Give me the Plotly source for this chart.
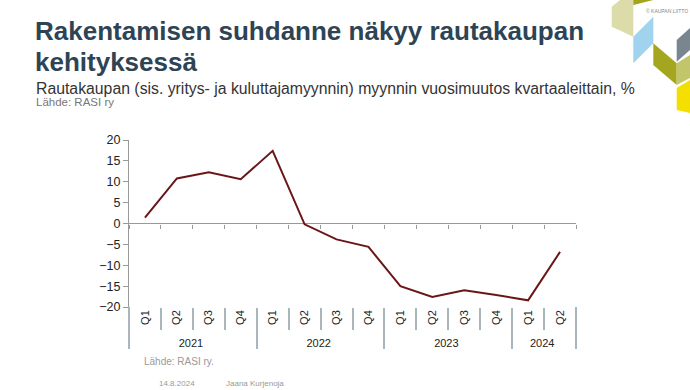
import plotly.graph_objects as go

years = ["2021"] * 4 + ["2022"] * 4 + ["2023"] * 4 + ["2024"] * 2
quarters = ["Q1", "Q2", "Q3", "Q4"] * 3 + ["Q1", "Q2"]
values = [1.4, 10.8, 12.3, 10.6, 17.4, -0.2, -3.8, -5.6, -15.0, -17.6, -16.0, -17.1, -18.4, -6.8]
y_ticks = [-20, -15, -10, -5, 0, 5, 10, 15, 20]

W, H = 690, 390
ML, MR, MT, MB = 129, 114, 140, 83
PW, PH = W - ML - MR, H - MT - MB


def px(x):
    return (x - ML) / PW


def py(y):
    return (H - MB - y) / PH


FONT = "Liberation Sans, Arial, sans-serif"
SEP = "#aab5bd"
XRANGE = [-0.5, len(values) - 0.5]

fig = go.Figure()
fig.add_trace(go.Scatter(
    x=[years, quarters], y=values, mode="lines",
    line=dict(color="#6b1616", width=2), showlegend=False, hoverinfo="skip",
))
# invisible trace for the zero-line tick axis
fig.add_trace(go.Scatter(
    x=[years, quarters], y=values, xaxis="x2", mode="lines",
    line=dict(width=0), opacity=0, showlegend=False, hoverinfo="skip",
))

fig.update_layout(
    width=W, height=H,
    margin=dict(l=ML, r=MR, t=MT, b=MB),
    paper_bgcolor="white", plot_bgcolor="white",
    font=dict(family=FONT, color="#222"),
    xaxis=dict(
        type="multicategory", range=XRANGE, showgrid=False, zeroline=False, showline=False,
        ticks="outside", ticklen=22, tickcolor=SEP, tickwidth=2,
        tickangle=-90, tickfont=dict(size=11, color="#222"),
        showdividers=True, dividercolor=SEP, dividerwidth=2,
    ),
    xaxis2=dict(
        type="multicategory", overlaying="x", anchor="free", position=0.5,
        range=XRANGE, showgrid=False, zeroline=False, showline=False,
        ticks="outside", ticklen=4, tickcolor="#999", tickwidth=1,
        showticklabels=False, showdividers=False,
    ),
    yaxis=dict(
        range=[-20, 20], tickvals=y_ticks, showgrid=False,
        zeroline=True, zerolinecolor="#999", zerolinewidth=1,
        showline=True, linecolor="#999", linewidth=1,
        ticks="outside", ticklen=5, tickcolor="#999",
        tickfont=dict(size=12.5, color="#222"),
    ),
)

# outer edges of the category axis (left and right)
for xe in (0, 1):
    fig.add_shape(type="line", xref="paper", yref="paper", x0=xe, x1=xe,
                  y0=py(307), y1=py(348), line=dict(color=SEP, width=2))

ann = [
    dict(text="<b>Rakentamisen suhdanne näkyy rautakaupan</b>", x=px(33), y=py(30.6),
         font=dict(size=26, color="#2e4454")),
    dict(text="<b>kehityksessä</b>", x=px(33), y=py(61.6),
         font=dict(size=26, color="#2e4454")),
    dict(text="Rautakaupan (sis. yritys- ja kuluttajamyynnin) myynnin vuosimuutos kvartaaleittain, %",
         x=px(34), y=py(89), font=dict(size=15.8, color="#333")),
    dict(text="Lähde: RASI ry", x=px(34), y=py(101.5), font=dict(size=11.5, color="#777")),
    dict(text="Lähde: RASI ry.", x=px(142), y=py(361), font=dict(size=10, color="#999")),
    dict(text="14.8.2024", x=px(157), y=py(383), font=dict(size=8, color="#999")),
    dict(text="Jaana Kurjenoja", x=px(224), y=py(383), font=dict(size=8, color="#999")),
    dict(text="© KAUPAN LIITTO", x=px(644), y=py(11), font=dict(size=5, color="#888")),
]
for a in ann:
    a.update(xref="paper", yref="paper", xanchor="left", yanchor="middle",
             showarrow=False, font=dict(family=FONT, **a["font"]))
    fig.add_annotation(**a)

# decorative corner shapes
decor = [
    ("#dcdcaa", [(611.7, 6.7), (620, 0), (633.3, 0), (633.3, 36.7), (611.7, 26.7)]),
    ("#a2a41c", [(633.3, 0), (653.3, 0), (633.3, 5)]),
    ("#9fd3ee", [(633.3, 36.7), (653.3, 16.7), (653.3, 43.3), (633.3, 63.3)]),
    ("#7a868f", [(676.7, 40), (690, 28), (690, 50), (676.7, 61.7)]),
    ("#a3a61e", [(653.3, 43.3), (676.7, 63.3), (676.7, 85), (653.3, 65)]),
    ("#c3c56a", [(676.7, 63.3), (690, 55), (690, 78), (676.7, 85)]),
    ("#f3df00", [(676.7, 88), (690, 80), (690, 113), (676.7, 110)]),
]
for color, pts in decor:
    path = "M " + " L ".join(f"{px(x):.4f},{py(y):.4f}" for x, y in pts) + " Z"
    fig.add_shape(type="path", path=path, xref="paper", yref="paper",
                  fillcolor=color, line=dict(width=0), layer="above")

fig.write_html("out.html", config={"displayModeBar": False},
               post_script="document.body.style.margin='0';document.body.style.overflow='hidden';")
